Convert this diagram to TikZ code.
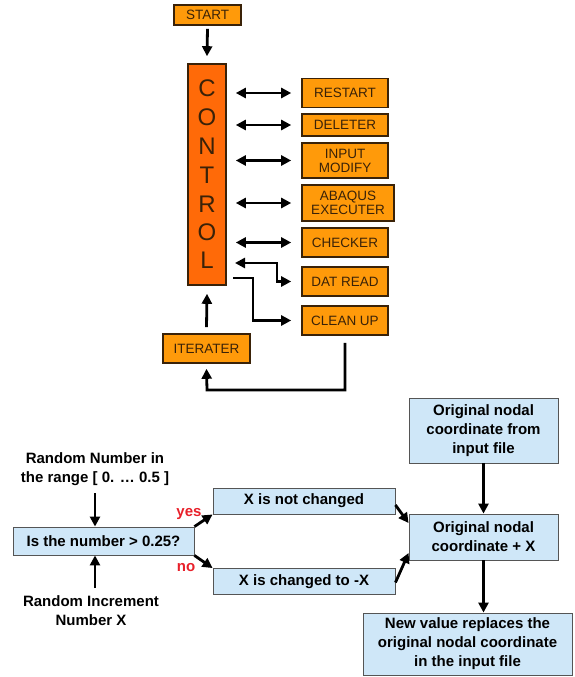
\documentclass[tikz,border=0pt]{standalone}
\usepackage{fontspec}
\setmainfont{Liberation Sans}
\usetikzlibrary{arrows.meta}
\definecolor{ctrl}{HTML}{FF6A08}
\definecolor{org}{HTML}{FF9A0A}
\definecolor{obrd}{HTML}{3A2208}
\definecolor{otxt}{HTML}{3A2208}
\definecolor{lblue}{HTML}{CFE7F8}
\definecolor{bbrd}{HTML}{555555}
\definecolor{yesred}{HTML}{E8202A}
\tikzset{
  obox/.style={draw=obrd, line width=1.6pt, fill=org, text=otxt, font=\fontsize{13.5}{14}\selectfont, align=center, inner sep=0pt},
  bbox/.style={draw=bbrd, line width=0.9pt, fill=lblue, font=\bfseries\fontsize{15}{19}\selectfont, align=center, inner sep=0pt},
  arr/.style={-{Triangle[length=10pt,width=10pt]}, line width=2.8pt},
  darr/.style={{Triangle[length=10pt,width=10pt]}-{Triangle[length=10pt,width=10pt]}, line width=2.8pt},
  lab/.style={font=\bfseries\fontsize{15}{19}\selectfont, align=center},
  rlab/.style={font=\bfseries\fontsize{15}{19}\selectfont, text=yesred}
}
\begin{document}
\begin{tikzpicture}[x=1pt,y=-1pt]
\useasboundingbox (0,0) rectangle (574,677);
% top part
\node[obox, minimum width=67pt, minimum height=20pt] (start) at (207.5,15) {START};
\node[draw=obrd, line width=1.6pt, fill=ctrl, minimum width=38pt, minimum height=221pt, inner sep=0pt] (ctrl) at (207,174.5) {};
\foreach \l/\yy in {C/88,O/117,N/146,T/175,R/204,O/232,L/260}
  \node[text=otxt, font=\fontsize{24}{24}\selectfont] at (207,\yy) {\l};
\node[obox, minimum width=86pt, minimum height=29pt] (restart) at (345,93) {RESTART};
\node[obox, minimum width=86pt, minimum height=22pt] (deleter) at (345,125) {DELETER};
\node[obox, minimum width=86pt, minimum height=35pt] (input) at (345,160.5) {INPUT\\MODIFY};
\node[obox, minimum width=92pt, minimum height=36pt] (abaqus) at (348,203) {ABAQUS\\EXECUTER};
\node[obox, minimum width=86pt, minimum height=29pt] (checker) at (345,242.5) {CHECKER};
\node[obox, minimum width=86pt, minimum height=29pt] (datread) at (345,281.5) {DAT READ};
\node[obox, minimum width=86pt, minimum height=29pt] (cleanup) at (345,320.5) {CLEAN UP};
\node[obox, minimum width=87pt, minimum height=29pt] (iter) at (206.5,348.5) {ITERATER};

\draw[arr] ([yshift=-3pt]start.south) -- ([yshift=7pt]ctrl.north);
\foreach \n in {restart,deleter,input,abaqus,checker}
  \draw[darr, shorten <=9pt, shorten >=10pt] (ctrl.east |- \n.west) -- (\n.west);
\coordinate (d1) at (235,263);
\coordinate (d2) at (277,263);
\draw[darr] (d1) -- (d2) |- ([xshift=-10pt]datread.west);
\coordinate (c1) at (233,278);
\coordinate (c2) at (253,278);
\draw[arr] (c1) -- (c2) |- ([xshift=-10pt]cleanup.west);
\draw[arr] ([yshift=6pt]iter.north) -- ([yshift=-8pt]ctrl.south);
\coordinate (lp1) at (345,390);
\coordinate (lp2) at (207,390);
\draw[arr] ([yshift=-7pt]cleanup.south) -- (lp1) -- (lp2) -- ([yshift=-5pt]iter.south);

% bottom part
\node[lab] (rn) at (95,469.5) {Random Number in\\the range [ 0. \dots\ 0.5 ]};
\node[bbox, minimum width=181pt, minimum height=28pt] (q) at (103.5,541) {Is the number > 0.25?};
\node[lab] (ri) at (91,611) {Random Increment\\Number X};
\coordinate (t1) at (95,493);
\draw[arr] (t1) -- (q.north -| t1);
\coordinate (t2) at (95,588);
\draw[arr] (t2) -- (q.south -| t2);
\node[bbox, minimum width=182pt, minimum height=26pt] (nc) at (304,501) {X is not changed};
\node[bbox, minimum width=182pt, minimum height=26pt] (ch) at (304,581.5) {X is changed to -X};
\node[rlab] (yes) at (189,514) {yes};
\node[rlab] (no) at (186,568) {no};
\draw[arr] (q.north east) -- (nc.south west);
\draw[arr] (q.south east) -- (ch.north west);
\node[bbox, minimum width=149pt, minimum height=65pt] (orig) at (483.5,430.5) {Original nodal\\coordinate from\\input file};
\node[bbox, minimum width=149pt, minimum height=46pt] (plus) at (483.5,537) {Original nodal\\coordinate + X};
\node[bbox, minimum width=209pt, minimum height=62pt] (newv) at (467.5,644) {New value replaces the\\original nodal coordinate\\in the input file};
\draw[arr] (orig.south) -- (plus.north);
\draw[arr] (plus.south) -- (plus.south |- newv.north);
\draw[arr] ([yshift=-4pt]nc.east) -- ([yshift=14pt]plus.west);
\draw[arr] ([yshift=-1pt]ch.east) -- ([yshift=-16pt]plus.west);
\end{tikzpicture}
\end{document}
